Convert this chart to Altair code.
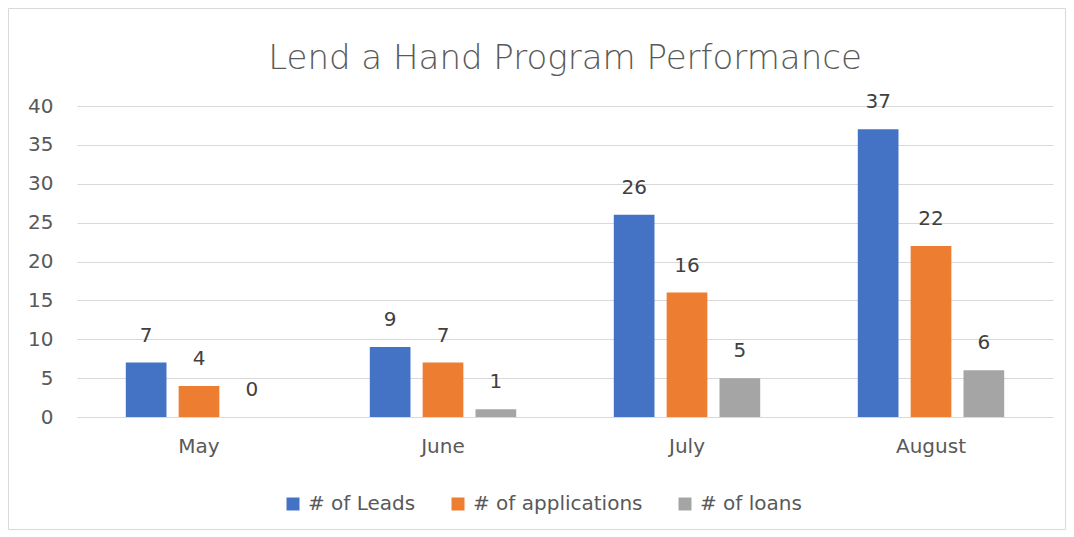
import altair as alt
import pandas as pd

months = ["May", "June", "July", "August"]
series = ["# of Leads", "# of applications", "# of loans"]
leads = [7, 9, 26, 37]
applications = [4, 7, 16, 22]
loans = [0, 1, 5, 6]
colors = ["#4472C4", "#ED7D31", "#A5A5A5"]
y_ticks = [0, 5, 10, 15, 20, 25, 30, 35, 40]

rows = []
for s, vals in zip(series, [leads, applications, loans]):
    for m, v in zip(months, vals):
        rows.append({"month": m, "series": s, "value": v})
df = pd.DataFrame(rows)

FONT = "DejaVu Sans"

base = alt.Chart(df).encode(
    x=alt.X(
        "month:N",
        sort=months,
        title=None,
        scale=alt.Scale(paddingInner=0.4, paddingOuter=0.2),
        axis=alt.Axis(labelAngle=0, labelPadding=19, labelFontSize=20,
                      labelColor="#595959", labelFont=FONT, domain=False, ticks=False, grid=False),
    ),
    xOffset=alt.XOffset("series:N", sort=series,
                        scale=alt.Scale(paddingInner=0.23, paddingOuter=0)),
    y=alt.Y(
        "value:Q",
        title=None,
        scale=alt.Scale(domain=[0, 40], nice=False),
        axis=alt.Axis(values=y_ticks, labelPadding=24, labelFontSize=20, labelColor="#595959",
                      labelFont=FONT, domain=False, ticks=False, grid=True,
                      gridColor="#d9d9d9", gridWidth=1),
    ),
)

bars = base.mark_bar().encode(
    color=alt.Color(
        "series:N",
        sort=series,
        scale=alt.Scale(domain=series, range=colors),
        legend=alt.Legend(title=None, orient="none", legendX=206, legendY=388,
                          direction="horizontal", columns=3,
                          symbolType="square", symbolSize=169, symbolStrokeWidth=0,
                          labelFontSize=20, labelColor="#595959", labelFont=FONT,
                          labelLimit=400, columnPadding=32, symbolOffset=0, labelOffset=5),
    )
)

labels = base.mark_text(dy=-27, fontSize=20, color="#404040", font=FONT, baseline="middle").encode(
    text="value:Q"
)

border = alt.Chart(alt.Data(values=[{}])).mark_rect(
    fill=None, stroke="#d9d9d9", strokeWidth=1
).encode(
    x=alt.value(-68.5), x2=alt.value(988.5), y=alt.value(-97.5), y2=alt.value(423.5)
)

chart = alt.layer(border, bars, labels).properties(
    width=976,
    height=311,
    title=alt.TitleParams(
        "Lend a Hand Program Performance",
        fontSize=34, font=FONT, fontWeight=200, color="#595959", anchor="middle",
        offset=-68, frame="group",
    ),
    view=alt.ViewBackground(stroke="transparent", strokeWidth=0),
    autosize=alt.AutoSizeParams(type="none"),
    padding={"left": 69, "top": 98, "right": 13, "bottom": 113},
).configure_view(strokeWidth=0, stroke="transparent").configure(background="white")

chart.save("out.html", embed_options={"renderer": "svg", "actions": False})
